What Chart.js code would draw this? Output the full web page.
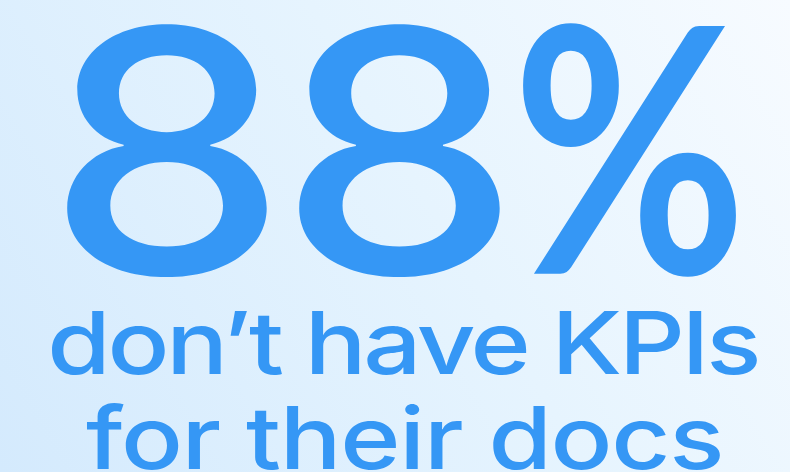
<!DOCTYPE html>
<html>
<head>
<meta charset="utf-8">
<script src="https://cdn.jsdelivr.net/npm/chart.js@4.4.0/dist/chart.umd.min.js"></script>
<style>
  html, body { margin: 0; padding: 0; background: #e6f4fe; }
  #wrap { width: 790px; height: 472px; }
</style>
</head>
<body>
<div id="wrap"><canvas id="stat-chart"></canvas></div>
<script>
// Dữ liệu của hình
const statValue = [88];
const statSuffix = ['%'];
const captionLines = ['don\u2019t have KPIs', 'for their docs'];

const textColor = '#3597f5';

// Vẽ nền gradient
const backgroundPlugin = {
  id: 'bgGradient',
  beforeDraw(chart) {
    const ctx = chart.ctx;
    const g = ctx.createLinearGradient(0, chart.height, chart.width, 0);
    g.addColorStop(0, '#d4eafd');
    g.addColorStop(0.55, '#e6f4fe');
    g.addColorStop(1, '#f7fbff');
    ctx.save();
    ctx.fillStyle = g;
    ctx.fillRect(0, 0, chart.width, chart.height);
    ctx.restore();
  }
};

// Vẽ một ký tự vừa khít vào một hộp (theo mực chữ)
function fitGlyph(ctx, text, font, left, right, top, bottom) {
  ctx.save();
  ctx.font = font;
  const m = ctx.measureText(text);
  const w = m.actualBoundingBoxLeft + m.actualBoundingBoxRight;
  const h = m.actualBoundingBoxAscent + m.actualBoundingBoxDescent;
  ctx.translate(left, top);
  ctx.scale((right - left) / w, (bottom - top) / h);
  ctx.fillStyle = textColor;
  ctx.textBaseline = 'alphabetic';
  ctx.fillText(text, m.actualBoundingBoxLeft, m.actualBoundingBoxAscent);
  ctx.restore();
}

// Vẽ một dòng chú thích: kéo giãn chữ ngang rồi chỉnh khoảng cách cho đủ rộng
function spreadText(ctx, text, font, sx, left, right, baseline) {
  ctx.save();
  ctx.font = font;
  ctx.letterSpacing = '0px';
  const m = ctx.measureText(text);
  const w = m.actualBoundingBoxLeft + m.actualBoundingBoxRight;
  const gap = ((right - left) / sx - w) / (text.length - 1);
  ctx.letterSpacing = gap + 'px';
  const m2 = ctx.measureText(text);
  ctx.translate(left, baseline);
  ctx.scale(sx, 1);
  ctx.fillStyle = textColor;
  ctx.textBaseline = 'alphabetic';
  ctx.fillText(text, m2.actualBoundingBoxLeft, 0);
  ctx.restore();
}

const statTextPlugin = {
  id: 'statText',
  afterDraw(chart) {
    const ctx = chart.ctx;
    const digits = String(statValue[0]).split('');
    // hộp của từng ký tự lớn
    const boxes = [[64, 268, 20, 279], [296, 501, 20, 279], [521, 736, 22, 279]];
    digits.forEach((ch, i) => {
      const b = boxes[i];
      fitGlyph(ctx, ch, '500 355px Inter', b[0], b[1], b[2], b[3]);
    });
    const pb = boxes[digits.length];
    fitGlyph(ctx, statSuffix[0], '700 355px Lato', pb[0], pb[1], pb[2], pb[3]);
    spreadText(ctx, captionLines[0], '500 87px Inter', 1.18, 52, 757, 374);
    spreadText(ctx, captionLines[1], '500 87px Inter', 1.18, 86, 720, 469);
  }
};

new Chart(document.getElementById('stat-chart'), {
  type: 'bar',
  data: {
    labels: ['KPIs'],
    datasets: [{ label: 'Không có KPI', data: [], backgroundColor: textColor }]
  },
  options: {
    responsive: true,
    maintainAspectRatio: false,
    animation: false,
    events: [],
    scales: { x: { display: false }, y: { display: false } },
    plugins: { legend: { display: false }, tooltip: { enabled: false } }
  },
  plugins: [backgroundPlugin, statTextPlugin]
});
</script>
</body>
</html>
